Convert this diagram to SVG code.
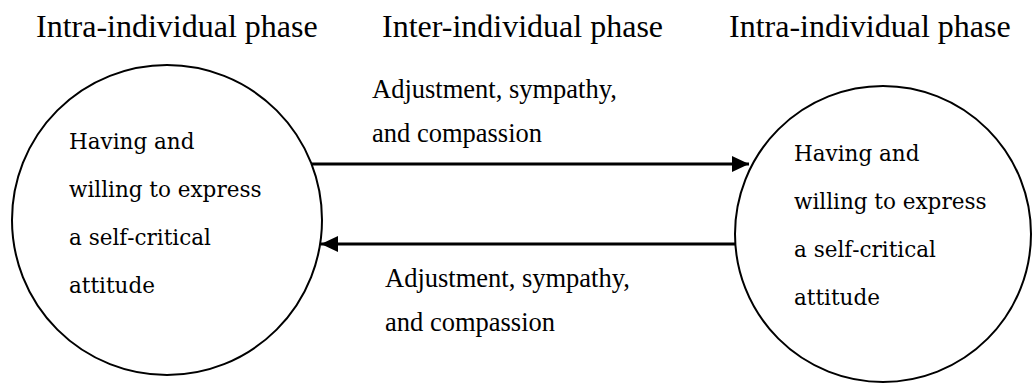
<svg xmlns="http://www.w3.org/2000/svg" width="1033" height="383" viewBox="0 0 1033 383">
<style>
.head{font-family:'Liberation Serif','Times New Roman',serif;font-size:32px;fill:#000}
.lab{font-family:'Liberation Serif','Times New Roman',serif;font-size:26.5px;fill:#000}
.ct{font-family:'DejaVu Serif',serif;font-size:21.5px;fill:#000}
.circ{fill:#fff;stroke:#000;stroke-width:2}
.arr{fill:none;stroke:#000;stroke-width:3;marker-end:url(#ah)}
</style>
<defs>
<marker id="ah" markerUnits="userSpaceOnUse" markerWidth="18" markerHeight="18" refX="17" refY="8" orient="auto">
<path d="M0,0 L17,8 L0,16 Z" fill="#000"/>
</marker>
</defs>
<rect width="1033" height="383" fill="#fff"/>
<g id="headers">
<text class="head" x="36" y="37">Intra-individual phase</text>
<text class="head" x="382" y="37">Inter-individual phase</text>
<text class="head" x="729" y="37">Intra-individual phase</text>
</g>
<g id="node-left">
<circle class="circ" cx="167" cy="220" r="155"/>
<text class="ct" x="69" y="149">Having and</text>
<text class="ct" x="69" y="197">willing to express</text>
<text class="ct" x="69" y="245">a self‐critical</text>
<text class="ct" x="69" y="293">attitude</text>
</g>
<g id="node-right">
<circle class="circ" cx="883" cy="234" r="148"/>
<text class="ct" x="794" y="161">Having and</text>
<text class="ct" x="794" y="209">willing to express</text>
<text class="ct" x="794" y="257">a self‐critical</text>
<text class="ct" x="794" y="305">attitude</text>
</g>
<g id="connectors">
<line class="arr" x1="311" y1="164" x2="749" y2="164"/>
<line class="arr" x1="736" y1="244" x2="321" y2="244"/>
<text class="lab" x="372" y="98">Adjustment, sympathy,</text>
<text class="lab" x="372" y="142">and compassion</text>
<text class="lab" x="385" y="287">Adjustment, sympathy,</text>
<text class="lab" x="385" y="331">and compassion</text>
</g>
</svg>
